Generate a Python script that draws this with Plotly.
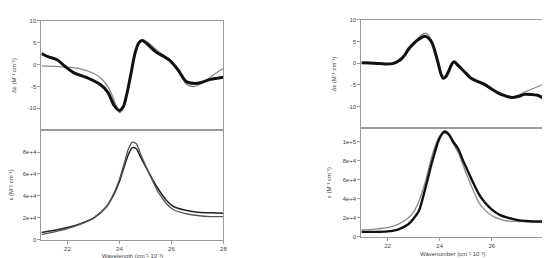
import plotly.graph_objects as go

# ---------------- data ----------------
# Left top: delta-epsilon (experimental, fit)
lt_exp_x = [21.0, 21.25, 21.6, 21.9, 22.25, 22.75, 23.25, 23.55, 23.8, 24.0, 24.15, 24.3, 24.45, 24.6, 24.75, 24.88, 25.05, 25.4, 25.9, 26.25, 26.55, 26.85, 27.15, 27.5, 28.0]
lt_exp_y = [2.5, 1.8, 1.1, -0.4, -1.9, -3.0, -4.5, -6.3, -9.4, -10.5, -9.6, -6.3, -1.9, 2.6, 5.0, 5.5, 4.8, 2.9, 1.1, -1.2, -3.8, -4.3, -4.1, -3.4, -2.9]
lt_fit_x = [21.0, 21.5, 22.0, 22.5, 23.0, 23.3, 23.6, 23.85, 24.0, 24.15, 24.3, 24.45, 24.6, 24.75, 24.9, 25.1, 25.5, 26.0, 26.3, 26.6, 26.9, 27.3, 27.7, 28.0]
lt_fit_y = [-0.3, -0.4, -0.6, -1.0, -2.0, -3.2, -5.5, -9.0, -11.0, -10.0, -6.5, -2.0, 2.5, 5.2, 5.7, 5.0, 3.0, 0.8, -1.8, -4.6, -5.0, -3.8, -2.0, -0.9]

# Left bottom: epsilon
lb_x = [21.0, 21.5, 22.0, 22.5, 23.0, 23.5, 23.8, 24.0, 24.2, 24.35, 24.5, 24.65, 24.8, 25.0, 25.25, 25.5, 25.8, 26.1, 26.5, 27.0, 27.5, 28.0]
lb_exp_y = [6500, 8500, 11000, 14500, 19500, 30000, 42000, 53000, 68000, 78000, 84000, 83000, 76000, 67000, 56000, 46000, 36000, 30000, 27000, 25000, 24500, 24000]
lb_fit_y = [4500, 7000, 10000, 14000, 19500, 30000, 43000, 55000, 71000, 83000, 89000, 87500, 79000, 68000, 55000, 43000, 33000, 27000, 24000, 22000, 21000, 21000]

# Right top: delta-epsilon
rt_exp_x = [21.0, 21.5, 21.9, 22.2, 22.45, 22.65, 22.8, 23.0, 23.15, 23.3, 23.45, 23.6, 23.72, 23.85, 23.95, 24.05, 24.14, 24.25, 24.35, 24.45, 24.56, 24.7, 24.85, 25.0, 25.2, 25.45, 25.75, 26.0, 26.25, 26.5, 26.75, 27.0, 27.25, 27.5, 27.75, 28.0]
rt_exp_y = [0.1, 0.0, -0.2, -0.1, 0.6, 1.8, 3.2, 4.5, 5.3, 5.9, 6.2, 5.6, 4.5, 2.0, -0.2, -2.5, -3.5, -3.0, -1.8, -0.4, 0.3, -0.5, -1.4, -2.3, -3.5, -4.2, -5.0, -6.0, -6.9, -7.5, -7.9, -7.7, -7.2, -7.2, -7.4, -8.2]
rt_fit_x = [21.0, 21.5, 22.0, 22.3, 22.55, 22.8, 23.0, 23.2, 23.35, 23.45, 23.55, 23.7, 23.85, 23.95, 24.05, 24.15, 24.25, 24.35, 24.45, 24.56, 24.7, 24.85, 25.0, 25.2, 25.45, 25.75, 26.0, 26.25, 26.5, 26.8, 27.4, 28.0]
rt_fit_y = [0.0, -0.1, -0.2, 0.0, 0.8, 2.8, 4.5, 5.9, 6.7, 6.9, 6.6, 5.0, 2.2, -0.3, -2.7, -3.4, -2.6, -1.4, -0.2, 0.4, -0.2, -1.3, -2.3, -3.4, -4.3, -5.2, -6.2, -7.0, -7.7, -7.8, -6.3, -4.8]

# Right bottom: epsilon
rb_x = [21.0, 21.5, 22.0, 22.4, 22.8, 23.0, 23.2, 23.45, 23.7, 23.95, 24.1, 24.2, 24.35, 24.5, 24.72, 24.9, 25.1, 25.3, 25.48, 25.7, 26.0, 26.3, 26.6, 27.0, 27.3, 27.6, 28.0]
rb_exp_y = [5000, 5000, 5500, 7500, 13000, 19000, 27000, 51000, 78000, 101000, 109000, 111000, 108000, 101000, 92000, 80000, 68000, 56000, 46000, 37000, 28500, 23000, 20000, 17500, 16500, 16000, 16000]
rb_fit_y = [7000, 8000, 9500, 13000, 20000, 26000, 37000, 58000, 85000, 104000, 108500, 109000, 107000, 99000, 88000, 75000, 61000, 48000, 37000, 29000, 22000, 18500, 16500, 16000, 15800, 15700, 15800]

# tick labels
top_tickvals = [-10, -5, 0, 5, 10]
top_ticktext = ["-10", "-5", "0", "5", "10"]
bot_tickvals_l = [0, 20000, 40000, 60000, 80000]
bot_ticktext_l = ["0", "2e+4", "4e+4", "6e+4", "8e+4"]
bot_tickvals_r = [0, 20000, 40000, 60000, 80000, 100000]
bot_ticktext_r = ["0", "2e+4", "4e+4", "6e+4", "8e+4", "1e+5"]
x_tickvals_l = [22, 24, 26, 28]
x_tickvals_r = [22, 24, 26]

# ---------------- figure ----------------
fig = go.Figure()
GRAY = "#8a8a8a"
BLACK = "#111111"

def add(x, y, xa, ya, color, width):
    fig.add_trace(go.Scatter(x=x, y=y, xaxis=xa, yaxis=ya, mode="lines",
                             line=dict(color=color, width=width, shape="spline", smoothing=0.8),
                             showlegend=False, hoverinfo="skip"))

add(lt_fit_x, lt_fit_y, "x", "y", GRAY, 1.3)
add(lt_exp_x, lt_exp_y, "x", "y", BLACK, 3)
add(lb_x, lb_exp_y, "x2", "y2", "#222222", 1.5)
add(lb_x, lb_fit_y, "x2", "y2", "#555555", 1.3)
add(rt_fit_x, rt_fit_y, "x3", "y3", GRAY, 1.3)
add(rt_exp_x, rt_exp_y, "x3", "y3", BLACK, 3)
add(rb_x, rb_fit_y, "x4", "y4", GRAY, 1.3)
add(rb_x, rb_exp_y, "x4", "y4", BLACK, 2.4)

FONT = dict(family="Liberation Sans, Arial, sans-serif", size=6, color="#444444")
LINE = "#9a9a9a"

def xax(domain, anchor, show, tickvals):
    return dict(domain=domain, anchor=anchor, range=[21, 28], showline=True, mirror=True,
                linecolor=LINE, linewidth=1, showgrid=False, zeroline=False,
                ticks="outside" if show else "", ticklen=3, tickcolor=LINE,
                showticklabels=show, tickvals=tickvals, tickfont=FONT)

def yax(domain, anchor, rng, tickvals, ticktext, title):
    return dict(domain=domain, anchor=anchor, range=rng, showline=True, mirror=True,
                linecolor=LINE, linewidth=1, showgrid=False, zeroline=False,
                ticks="outside", ticklen=3, tickcolor=LINE,
                tickvals=tickvals, ticktext=ticktext, tickfont=FONT,
                title=dict(text=title, font=FONT, standoff=10))

de_title = "Δε (M⁻¹ cm⁻¹)"
e_title = "ε (M⁻¹ cm⁻¹)"

lx = [33.7 / 550, 217 / 550]
rx = [356 / 550, 540 / 550]

fig.update_layout(
    width=550, height=258,
    margin=dict(l=0, r=0, t=0, b=0),
    paper_bgcolor="white", plot_bgcolor="white",
    font=FONT,
    xaxis=xax(lx, "y", False, x_tickvals_l),
    yaxis=yax([1 - 122 / 258, 1 - 10 / 258], "x", [-15, 10], top_tickvals, top_ticktext, de_title),
    xaxis2=dict(xax(lx, "y2", True, x_tickvals_l),
                title=dict(text="Wavelength (cm⁻¹ 10⁻³)", font=FONT, standoff=3)),
    yaxis2=yax([1 - 234 / 258, 1 - 122 / 258], "x2", [0, 100000], bot_tickvals_l, bot_ticktext_l, e_title),
    xaxis3=xax(rx, "y3", False, x_tickvals_r),
    yaxis3=yax([1 - 120 / 258, 1 - 9 / 258], "x3", [-15, 10], top_tickvals, top_ticktext, de_title),
    xaxis4=dict(xax(rx, "y4", True, x_tickvals_r),
                title=dict(text="Wavenumber (cm⁻¹ 10⁻³)", font=FONT, standoff=3)),
    yaxis4=yax([1 - 231 / 258, 1 - 120 / 258], "x4", [0, 114500], bot_tickvals_r, bot_ticktext_r, e_title),
)

fig.write_html("out.html")
